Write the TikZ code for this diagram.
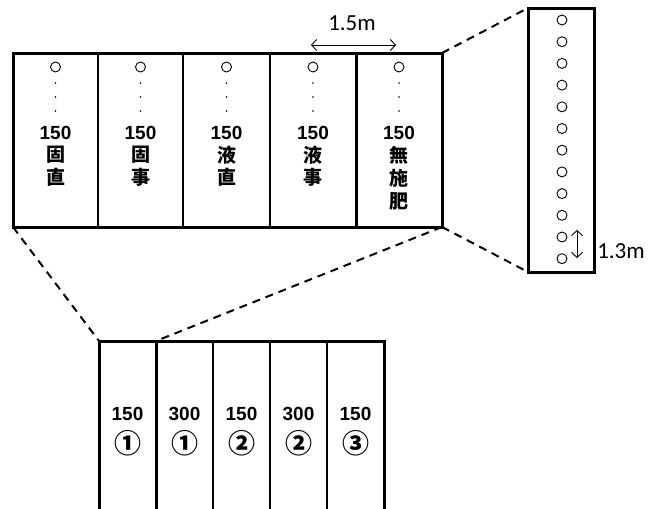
\documentclass[tikz,border=0pt]{standalone}
\usepackage{fontspec}
\setmainfont{Carlito}
\newfontfamily\jpfont{Noto Sans CJK JP}
\newfontfamily\numfont{Liberation Sans}
\usetikzlibrary{arrows.meta}
\tikzset{
  frame/.style={draw, line width=3pt, inner sep=0pt, outer sep=0pt},
  divider/.style={line width=2pt},
  thickdiv/.style={line width=3pt},
  zoomline/.style={line width=2pt, dash pattern=on 8pt off 6pt},
  hole/.style={circle, draw, line width=0.9pt, minimum size=10pt, inner sep=0pt},
  dotmark/.style={circle, fill, minimum size=1.6pt, inner sep=0pt},
  numlbl/.style={font=\numfont\bfseries\fontsize{19}{21}\selectfont, inner sep=0pt},
  lbl/.style={font=\jpfont\bfseries\fontsize{19}{21}\selectfont, inner sep=0pt},
  circlbl/.style={font=\jpfont\bfseries\fontsize{27}{29}\selectfont, inner sep=0pt},
  dim/.style={line width=0.9pt, {Straight Barb[length=5pt,width=11pt]}-{Straight Barb[length=5pt,width=11pt]}},
  dimtext/.style={font=\fontsize{23}{25}\selectfont, inner sep=0pt}
}
\begin{document}
\begin{tikzpicture}[x=1pt,y=-1pt]
\useasboundingbox (0,0) rectangle (657,509);

% five treatment plots
\node[frame, minimum width=429pt, minimum height=174pt] (plots) at (227.5,140) {};
\draw[divider]  (98,53)  -- (98,227);
\draw[divider]  (183,53) -- (183,227);
\draw[divider]  (270,53) -- (270,227);
\draw[thickdiv] (356,53) -- (356,227);

\foreach \cx/\i in {55.5/a,140.5/b,226.5/c,313/d,399/e}{
  \node[hole] (h\i) at (\cx,67) {};
  \node[dotmark] (d1\i) at (\cx,83) {};
  \node[dotmark] (d2\i) at (\cx,97) {};
  \node[dotmark] (d3\i) at (\cx,111) {};
  \node[numlbl] (n\i) at (\cx,133) {150};
}
\node[lbl] (ka1) at (55.5,155) {固};
\node[lbl] (ka2) at (55.5,177) {直};
\node[lbl] (kb1) at (140.5,155) {固};
\node[lbl] (kb2) at (140.5,177) {事};
\node[lbl] (kc1) at (226.5,155) {液};
\node[lbl] (kc2) at (226.5,177) {直};
\node[lbl] (kd1) at (313,155) {液};
\node[lbl] (kd2) at (313,177) {事};
\node[lbl] (ke1) at (399,155) {無};
\node[lbl] (ke2) at (399,178) {施};
\node[lbl] (ke3) at (399,201) {肥};

% plot width
\coordinate (wl) at (311,45);
\coordinate (wr) at (396,45);
\draw[dim] (wl) -- (wr);
\node[dimtext] (wtext) at (352,23) {1.5m};

% one row of hills
\node[frame, minimum width=66pt, minimum height=264pt] (row) at (561,140) {};
\foreach \k in {0,...,11}{
  \node[hole] (r\k) at (562,{20+\k*21.7}) {};
}
\coordinate (sa) at (577,230);
\coordinate (sb) at (577,258);
\draw[dim] (sa) -- (sb);
\node[dimtext] (stext) at (621,251) {1.3m};

% sub-plots
\coordinate (sub nw) at (99,341);
\coordinate (sub ne) at (384,341);
\draw[line width=3pt] (99,509) -- (sub nw) -- (sub ne) -- (384,509);
\draw[thickdiv] (156,341) -- (156,509);
\coordinate (sub d) at (156,341);
\draw[divider] (213,341) -- (213,509);
\draw[divider] (270,341) -- (270,509);
\draw[divider] (327,341) -- (327,509);

\node[numlbl] (s1) at (127.5,414) {150};
\node[numlbl] (s2) at (184.5,414) {300};
\node[numlbl] (s3) at (241.5,414) {150};
\node[numlbl] (s4) at (298.5,414) {300};
\node[numlbl] (s5) at (355.5,414) {150};
\node[circlbl] (c1) at (127.5,443) {①};
\node[circlbl] (c2) at (184.5,443) {①};
\node[circlbl] (c3) at (241.5,443) {②};
\node[circlbl] (c4) at (298.5,443) {②};
\node[circlbl] (c5) at (355.5,443) {③};

% zoom guides
\draw[zoomline] (plots.north east) -- (row.north west);
\draw[zoomline] (plots.south east) -- (row.south west);
\draw[zoomline] (plots.south west) -- (sub nw);
\draw[zoomline] (plots.south east) -- (sub d);
\end{tikzpicture}
\end{document}
